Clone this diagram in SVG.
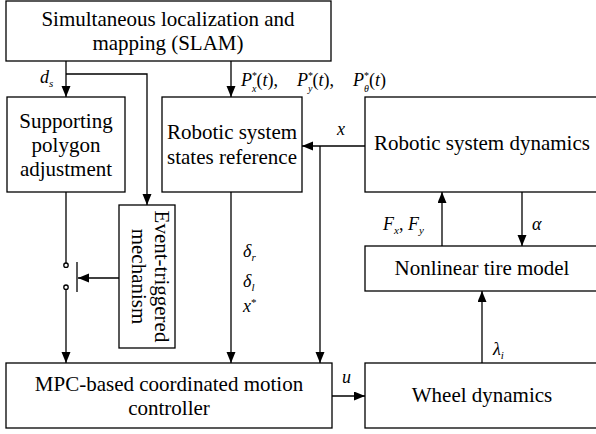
<svg xmlns="http://www.w3.org/2000/svg" width="596" height="434" viewBox="0 0 596 434">
<style>
.box{fill:#fff;stroke:#000;stroke-width:1.3}
.ln{fill:none;stroke:#000;stroke-width:1.3}
text{font-family:"Liberation Serif","DejaVu Serif","Times New Roman",serif;fill:#000}
.t{font-size:21px;text-anchor:middle}
.m{font-style:italic;font-size:18px}
.s{font-style:italic;font-size:11px}
.n{font-style:normal}
.sp{font-style:normal;font-size:10px}
.sb{font-style:italic;font-size:10px}
</style>
<defs>
<marker id="ah" markerUnits="userSpaceOnUse" markerWidth="12" markerHeight="10" refX="11" refY="4.5" orient="auto">
<path d="M0,0 L11,4.5 L0,9 z" fill="#000"/>
</marker>
</defs>
<g id="slam"><rect class="box" x="6" y="1" width="325" height="60"/>
<text class="t" x="168" y="26">Simultaneous localization and</text>
<text class="t" x="168" y="50">mapping (SLAM)</text></g>
<g id="support"><rect class="box" x="7" y="97" width="118" height="95"/>
<text class="t" x="66" y="128">Supporting</text>
<text class="t" x="66" y="152">polygon</text>
<text class="t" x="66" y="176">adjustment</text></g>
<g id="states"><rect class="box" x="162" y="97" width="140" height="95"/>
<text class="t" x="232" y="139">Robotic system</text>
<text class="t" x="232" y="164">states reference</text></g>
<g id="dynamics"><rect class="box" x="365" y="97" width="240" height="95"/>
<text class="t" x="482" y="150">Robotic system dynamics</text></g>
<g id="tire"><rect class="box" x="365" y="246" width="240" height="45"/>
<text class="t" x="482" y="275">Nonlinear tire model</text></g>
<g id="wheel"><rect class="box" x="365" y="363" width="240" height="65"/>
<text class="t" x="482" y="402">Wheel dynamics</text></g>
<g id="mpc"><rect class="box" x="6" y="363" width="326" height="65"/>
<text class="t" x="169" y="391">MPC-based coordinated motion</text>
<text class="t" x="169" y="415">controller</text></g>
<g id="event"><rect class="box" x="119" y="205" width="56" height="143"/>
<text class="t" transform="translate(155,276.5) rotate(90)">Event-triggered</text>
<text class="t" transform="translate(132,276.5) rotate(90)">mechanism</text></g>
<g id="connectors">
<path class="ln" d="M66,61 V97" marker-end="url(#ah)"/>
<path class="ln" d="M66,74 H147 V205" marker-end="url(#ah)"/>
<path class="ln" d="M231,61 V97" marker-end="url(#ah)"/>
<path class="ln" d="M365,146 H302" marker-end="url(#ah)"/>
<path class="ln" d="M320,146 V363" marker-end="url(#ah)"/>
<path class="ln" d="M231,192 V363" marker-end="url(#ah)"/>
<path class="ln" d="M66,192 V263"/>
<circle class="ln" cx="66" cy="265.2" r="2.2" fill="#fff"/>
<circle class="ln" cx="66" cy="287.2" r="2.2" fill="#fff"/>
<path class="ln" d="M66,289.4 V363" marker-end="url(#ah)"/>
<path class="ln" d="M77,262 V292"/>
<path class="ln" d="M119,278 H78" marker-end="url(#ah)"/>
<path class="ln" d="M332,396 H365" marker-end="url(#ah)"/>
<path class="ln" d="M482,363 V291" marker-end="url(#ah)"/>
<path class="ln" d="M442,246 V192" marker-end="url(#ah)"/>
<path class="ln" d="M522,192 V246" marker-end="url(#ah)"/>
</g>
<g id="labels">
<text class="m" x="40" y="83">d<tspan class="s" dy="4">s</tspan></text>
<text class="m" x="241" y="86">P<tspan class="sp" dy="-7">*</tspan><tspan class="sb" dx="-5" dy="13">x</tspan><tspan class="n" dy="-6">(</tspan>t<tspan class="n">),</tspan></text>
<text class="m" x="297" y="86">P<tspan class="sp" dy="-7">*</tspan><tspan class="sb" dx="-5" dy="13">y</tspan><tspan class="n" dy="-6">(</tspan>t<tspan class="n">),</tspan></text>
<text class="m" x="353" y="86">P<tspan class="sp" dy="-7">*</tspan><tspan class="sb" dx="-5" dy="13">θ</tspan><tspan class="n" dy="-6">(</tspan>t<tspan class="n">)</tspan></text>
<text class="m" x="337" y="135">x</text>
<text class="m" x="243" y="257">δ<tspan class="s" dy="4">r</tspan></text>
<text class="m" x="243" y="287">δ<tspan class="s" dy="4">l</tspan></text>
<text class="m" x="243" y="312">x<tspan class="n" font-size="11" dy="-6">*</tspan></text>
<text class="m" x="342" y="383">u</text>
<text class="m" x="493" y="355">λ<tspan class="s" dy="4">i</tspan></text>
<text class="m" x="383" y="230">F<tspan class="s" dy="4">x</tspan><tspan class="n" dy="-4">, </tspan>F<tspan class="s" dy="4">y</tspan></text>
<text class="m" x="532" y="230">α</text>
</g>
</svg>
